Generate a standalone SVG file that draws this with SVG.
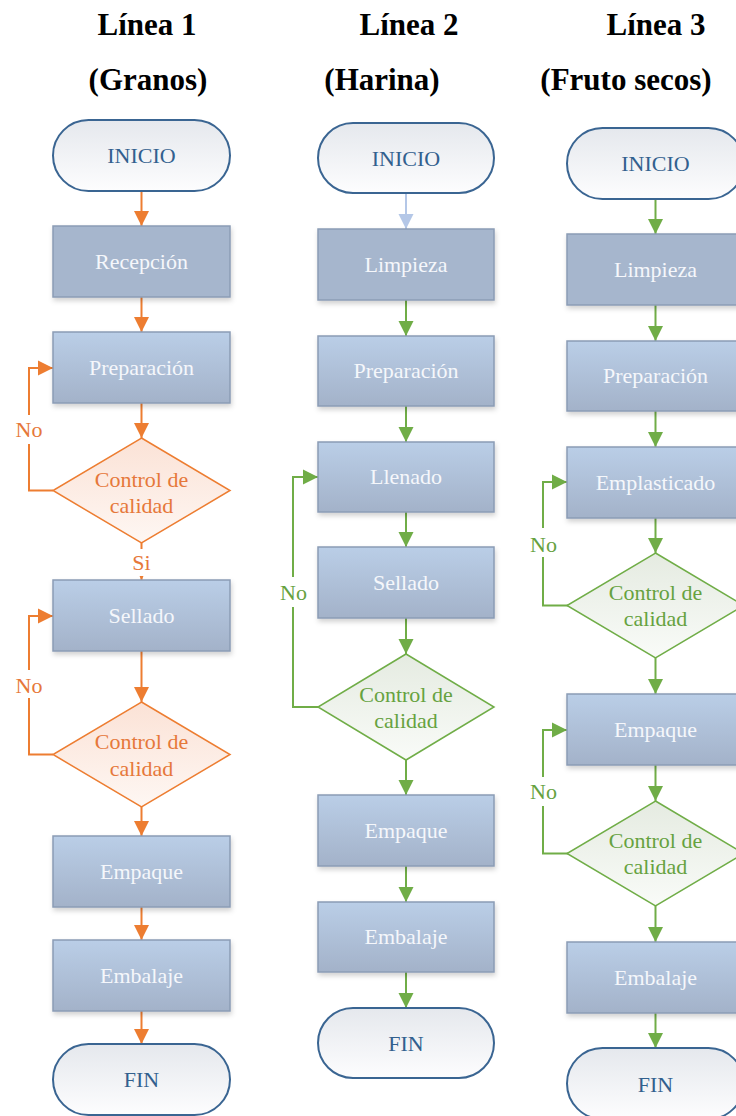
<svg xmlns="http://www.w3.org/2000/svg" width="736" height="1116" viewBox="0 0 736 1116">
<defs>
<linearGradient id="gBox" x1="0" y1="0" x2="0" y2="1"><stop offset="0" stop-color="#bacee7"/><stop offset="1" stop-color="#a3b2c9"/></linearGradient>
<linearGradient id="gTerm" x1="0" y1="0" x2="0" y2="1"><stop offset="0" stop-color="#e5e8ed"/><stop offset="1" stop-color="#fdfdfe"/></linearGradient>
<linearGradient id="gOr" x1="0" y1="0" x2="0" y2="1"><stop offset="0" stop-color="#fbe2d6"/><stop offset="1" stop-color="#fef7f3"/></linearGradient>
<linearGradient id="gGr" x1="0" y1="0" x2="0" y2="1"><stop offset="0" stop-color="#e5ebe1"/><stop offset="1" stop-color="#f9fbf8"/></linearGradient>
<filter id="sh" x="-10%" y="-10%" width="130%" height="140%"><feDropShadow dx="1" dy="3" stdDeviation="2.5" flood-color="#000" flood-opacity="0.18"/></filter>
<marker id="aO" markerUnits="userSpaceOnUse" markerWidth="16" markerHeight="16" refX="15" refY="8" orient="auto"><path d="M0,0.5 L15,8 L0,15.5 z" fill="#ed7d31"/></marker>
<marker id="aG" markerUnits="userSpaceOnUse" markerWidth="16" markerHeight="16" refX="15" refY="8" orient="auto"><path d="M0,0.5 L15,8 L0,15.5 z" fill="#70ad47"/></marker>
<marker id="aB" markerUnits="userSpaceOnUse" markerWidth="16" markerHeight="16" refX="15" refY="8" orient="auto"><path d="M0,0.5 L15,8 L0,15.5 z" fill="#b4c7e7"/></marker>
<style>
.title{font-family:"Liberation Serif","Times New Roman",serif;font-weight:bold;font-size:31px;fill:#000;text-anchor:middle}
.term{fill:url(#gTerm);stroke:#3a6592;stroke-width:2}
.termt{font-family:"Liberation Serif","Times New Roman",serif;font-size:22px;fill:#32608e;text-anchor:middle}
.box{fill:url(#gBox);stroke:#8b9cb5;stroke-width:1.5;filter:url(#sh)}
.flat{fill:#a6b6cd;stroke:#8b9cb5;stroke-width:1.5;filter:url(#sh)}
.boxt{font-family:"Liberation Serif","Times New Roman",serif;font-size:22px;fill:#f5f7fb;text-anchor:middle}
.dor{fill:url(#gOr);stroke:#ed7d31;stroke-width:1.5}
.dgr{fill:url(#gGr);stroke:#70ad47;stroke-width:1.5}
.tor{font-family:"Liberation Serif","Times New Roman",serif;font-size:22px;fill:#e6783a;text-anchor:middle}
.tgr{font-family:"Liberation Serif","Times New Roman",serif;font-size:22px;fill:#66a23f;text-anchor:middle}
.co{fill:none;stroke:#ed7d31;stroke-width:2;marker-end:url(#aO)}
.cg{fill:none;stroke:#70ad47;stroke-width:2;marker-end:url(#aG)}
.cb{fill:none;stroke:#b4c7e7;stroke-width:2;marker-end:url(#aB)}
.bg{fill:#fff}
</style>
</defs>
<rect width="736" height="1116" fill="#fff"/>

<g id="titles">
<text class="title" x="147" y="35">Línea 1</text>
<text class="title" x="148" y="90">(Granos)</text>
<text class="title" x="409" y="35">Línea 2</text>
<text class="title" x="382" y="90">(Harina)</text>
<text class="title" x="656" y="35">Línea 3</text>
<text class="title" x="626" y="90">(Fruto secos)</text>
</g>

<g id="connectors">
<path class="co" d="M141.5,191 V226"/>
<path class="co" d="M141.5,297 V332"/>
<path class="co" d="M141.5,403 V438"/>
<path class="co" d="M141.5,543 V580"/>
<path class="co" d="M53,490.5 H29 V368 H53"/>
<path class="co" d="M141.5,651 V702"/>
<path class="co" d="M53,754.5 H29 V616 H53"/>
<path class="co" d="M141.5,807 V836"/>
<path class="co" d="M141.5,907 V940"/>
<path class="co" d="M141.5,1011 V1044"/>
<path class="cb" d="M406,193 V229"/>
<path class="cg" d="M406,300 V336"/>
<path class="cg" d="M406,406 V442"/>
<path class="cg" d="M406,512 V547"/>
<path class="cg" d="M406,618 V654"/>
<path class="cg" d="M318,707 H293 V477 H318"/>
<path class="cg" d="M406,760 V795"/>
<path class="cg" d="M406,866 V902"/>
<path class="cg" d="M406,972 V1008"/>
<path class="cg" d="M655.5,199 V234"/>
<path class="cg" d="M655.5,305 V341"/>
<path class="cg" d="M655.5,411 V447"/>
<path class="cg" d="M655.5,518 V553"/>
<path class="cg" d="M568,605.5 H543 V482 H567"/>
<path class="cg" d="M655.5,658 V694"/>
<path class="cg" d="M655.5,765 V801"/>
<path class="cg" d="M568,853.5 H543 V730 H567"/>
<path class="cg" d="M655.5,906 V942"/>
<path class="cg" d="M655.5,1013 V1048"/>
<rect class="bg" x="12" y="415" width="34" height="29"/>
<text class="tor" x="29" y="437">No</text>
<rect class="bg" x="12" y="670" width="34" height="28"/>
<text class="tor" x="29" y="693">No</text>
<rect class="bg" x="127" y="549" width="29" height="27"/>
<text class="tor" x="141.5" y="570">Si</text>
<rect class="bg" x="276" y="577" width="34" height="30"/>
<text class="tgr" x="293.5" y="600">No</text>
<rect class="bg" x="526" y="528" width="34" height="29"/>
<text class="tgr" x="543.5" y="552">No</text>
<rect class="bg" x="526" y="777" width="34" height="29"/>
<text class="tgr" x="543.5" y="799">No</text>
</g>

<g id="l1-inicio"><rect class="term" x="53" y="120" width="177" height="71" rx="35.5"/><text class="termt" x="141.5" y="163">INICIO</text></g>
<g id="l1-recepcion"><rect class="flat" x="53" y="226" width="177" height="71"/><text class="boxt" x="141.5" y="269">Recepción</text></g>
<g id="l1-preparacion"><rect class="box" x="53" y="332" width="177" height="71"/><text class="boxt" x="141.5" y="375">Preparación</text></g>
<g id="l1-control1"><path class="dor" d="M141.5,438 L230,490.5 L141.5,543 L53,490.5 Z"/><text class="tor" x="141.5" y="487">Control de</text><text class="tor" x="141.5" y="513">calidad</text></g>
<g id="l1-sellado"><rect class="box" x="53" y="580" width="177" height="71"/><text class="boxt" x="141.5" y="623">Sellado</text></g>
<g id="l1-control2"><path class="dor" d="M141.5,702 L230,754.5 L141.5,807 L53,754.5 Z"/><text class="tor" x="141.5" y="749">Control de</text><text class="tor" x="141.5" y="776">calidad</text></g>
<g id="l1-empaque"><rect class="box" x="53" y="836" width="177" height="71"/><text class="boxt" x="141.5" y="879">Empaque</text></g>
<g id="l1-embalaje"><rect class="box" x="53" y="940" width="177" height="71"/><text class="boxt" x="141.5" y="983">Embalaje</text></g>
<g id="l1-fin"><rect class="term" x="53" y="1044" width="177" height="71" rx="35.5"/><text class="termt" x="141.5" y="1087">FIN</text></g>

<g id="l2-inicio"><rect class="term" x="318" y="123" width="176" height="70" rx="35"/><text class="termt" x="406" y="166">INICIO</text></g>
<g id="l2-limpieza"><rect class="flat" x="318" y="229" width="176" height="71"/><text class="boxt" x="406" y="272">Limpieza</text></g>
<g id="l2-preparacion"><rect class="box" x="318" y="336" width="176" height="70"/><text class="boxt" x="406" y="378">Preparación</text></g>
<g id="l2-llenado"><rect class="box" x="318" y="442" width="176" height="70"/><text class="boxt" x="406" y="484">Llenado</text></g>
<g id="l2-sellado"><rect class="box" x="318" y="547" width="176" height="71"/><text class="boxt" x="406" y="590">Sellado</text></g>
<g id="l2-control"><path class="dgr" d="M406,654 L494,707 L406,760 L318,707 Z"/><text class="tgr" x="406" y="702">Control de</text><text class="tgr" x="406" y="728">calidad</text></g>
<g id="l2-empaque"><rect class="box" x="318" y="795" width="176" height="71"/><text class="boxt" x="406" y="838">Empaque</text></g>
<g id="l2-embalaje"><rect class="box" x="318" y="902" width="176" height="70"/><text class="boxt" x="406" y="944">Embalaje</text></g>
<g id="l2-fin"><rect class="term" x="318" y="1008" width="176" height="70" rx="35"/><text class="termt" x="406" y="1051">FIN</text></g>

<g id="l3-inicio"><rect class="term" x="567" y="128" width="177" height="71" rx="35.5"/><text class="termt" x="655.5" y="171">INICIO</text></g>
<g id="l3-limpieza"><rect class="flat" x="567" y="234" width="177" height="71"/><text class="boxt" x="655.5" y="277">Limpieza</text></g>
<g id="l3-preparacion"><rect class="box" x="567" y="341" width="177" height="70"/><text class="boxt" x="655.5" y="383">Preparación</text></g>
<g id="l3-emplasticado"><rect class="box" x="567" y="447" width="177" height="71"/><text class="boxt" x="655.5" y="490">Emplasticado</text></g>
<g id="l3-control1"><path class="dgr" d="M655.5,553 L744,605.5 L655.5,658 L567,605.5 Z"/><text class="tgr" x="655.5" y="600">Control de</text><text class="tgr" x="655.5" y="626">calidad</text></g>
<g id="l3-empaque"><rect class="box" x="567" y="694" width="177" height="71"/><text class="boxt" x="655.5" y="737">Empaque</text></g>
<g id="l3-control2"><path class="dgr" d="M655.5,801 L744,853.5 L655.5,906 L567,853.5 Z"/><text class="tgr" x="655.5" y="848">Control de</text><text class="tgr" x="655.5" y="874">calidad</text></g>
<g id="l3-embalaje"><rect class="box" x="567" y="942" width="177" height="71"/><text class="boxt" x="655.5" y="985">Embalaje</text></g>
<g id="l3-fin"><rect class="term" x="567" y="1048" width="177" height="71" rx="35.5"/><text class="termt" x="655.5" y="1092">FIN</text></g>
</svg>
